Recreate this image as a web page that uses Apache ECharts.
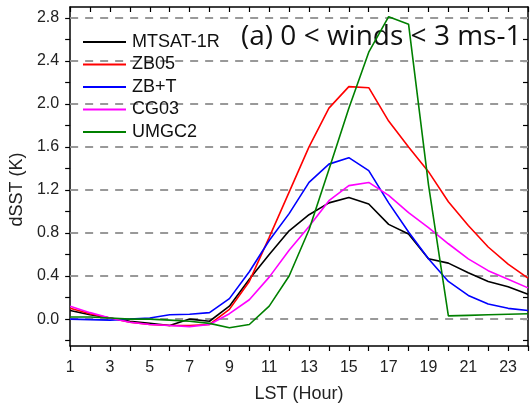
<!DOCTYPE html>
<html>
<head>
<meta charset="utf-8">
<script src="https://cdn.jsdelivr.net/npm/echarts@6/dist/echarts.min.js"></script>
<style>
html,body{margin:0;padding:0;background:#fff;}
#chart{width:531px;height:408px;}
</style>
</head>
<body>
<div id="chart"></div>
<script>
const hours = [1,2,3,4,5,6,7,8,9,10,11,12,13,14,15,16,17,18,19,20,21,22,23,24];
const mtsat = [0.08,0.04,0.01,-0.02,-0.04,-0.06,0.0,-0.02,0.12,0.37,0.60,0.82,0.97,1.08,1.13,1.07,0.88,0.79,0.56,0.52,0.43,0.35,0.30,0.23];
const zb05  = [0.10,0.05,0.01,-0.03,-0.05,-0.06,-0.06,-0.05,0.09,0.35,0.76,1.18,1.60,1.96,2.16,2.15,1.84,1.60,1.37,1.09,0.87,0.67,0.51,0.38];
const zbt   = [0.00,-0.005,-0.01,0.00,0.01,0.04,0.045,0.06,0.19,0.44,0.73,0.98,1.27,1.44,1.50,1.38,1.08,0.81,0.56,0.35,0.22,0.14,0.10,0.08];
const cg03  = [0.12,0.06,0.01,-0.03,-0.05,-0.06,-0.07,-0.05,0.05,0.18,0.39,0.64,0.86,1.10,1.24,1.27,1.15,0.99,0.85,0.70,0.56,0.45,0.37,0.29];
const umgc2 = [0.02,0.02,0.01,0.00,0.00,-0.01,-0.02,-0.04,-0.08,-0.05,0.12,0.40,0.83,1.39,1.96,2.48,2.81,2.74,1.25,0.03,0.035,0.04,0.045,0.05];
const seriesNames = ['MTSAT-1R','ZB05','ZB+T','CG03','UMGC2'];
const yLabelValues = [0,0.4,0.8,1.2,1.6,2.0,2.4,2.8];
const yTickValues = [-0.2,0,0.2,0.4,0.6,0.8,1.0,1.2,1.4,1.6,1.8,2.0,2.2,2.4,2.6,2.8];
const gridValues = [0,0.4,0.8,1.2,1.6,2.0,2.4,2.8];
const titleText = '(a) 0 < winds < 3 ms-1';

const colors = ['#000000','#ff0000','#0000ff','#ff00ff','#008000'];
const values = [mtsat, zb05, zbt, cg03, umgc2];

const chart = echarts.init(document.getElementById('chart'), null, {renderer:'canvas'});
const axisFont = {fontFamily:'Liberation Sans, Arial, sans-serif', fontSize:16, color:'#222'};

const series = seriesNames.map((name, i) => ({
  name: name,
  type: 'line',
  xAxisIndex: 0, yAxisIndex: 0,
  data: hours.map((h, k) => [h, values[i][k]]),
  symbol: 'none',
  lineStyle: {color: colors[i], width: 1.6},
  itemStyle: {color: colors[i]},
  z: 3 + i,
  silent: true
}));
series.push({
  name: 'gridlines',
  type: 'line',
  data: [],
  symbol: 'none',
  silent: true,
  markLine: {
    silent: true,
    symbol: ['none','none'],
    z: 1,
    label: {show: false},
    lineStyle: {color: '#999', width: 1.8, type: [8,7]},
    data: gridValues.map(v => ({yAxis: v}))
  }
});

chart.setOption({
  animation: false,
  backgroundColor: '#fff',
  title: {
    text: titleText,
    left: 236, top: 18,
    textStyle: {fontFamily: 'Open Sans', fontSize: 28, fontWeight: 'normal', color: '#111'}
  },
  legend: {
    data: seriesNames,
    orient: 'vertical',
    left: 83, top: 32, padding: 0,
    icon: 'rect',
    itemWidth: 43, itemHeight: 2, itemGap: 2.5,
    textStyle: {fontFamily:'Liberation Sans, Arial, sans-serif', fontSize: 18, color: '#111', lineHeight: 20, padding: [0,0,0,1]},
    selectedMode: false
  },
  grid: {left: 68, top: 7, width: 466, height: 343, containLabel: false},
  xAxis: [{
    type: 'value', min: 1, max: 24, interval: 1,
    position: 'bottom',
    name: 'LST (Hour)', nameLocation: 'middle', nameGap: 39,
    nameTextStyle: {fontFamily:'Liberation Sans, Arial, sans-serif', fontSize: 18, color: '#222'},
    axisLine: {show: true, onZero: false, lineStyle: {color: '#000', width: 1.5}},
    axisTick: {show: true, inside: false, length: 5, lineStyle: {color: '#000', width: 1.2}},
    axisLabel: Object.assign({margin: 14, formatter: v => (v % 2 === 1 && v < 24) ? String(v) : ''}, axisFont),
    splitLine: {show: false}
  },{
    type: 'value', min: 1, max: 24, interval: 1,
    position: 'top',
    axisLine: {show: true, onZero: false, lineStyle: {color: '#000', width: 1.5}},
    axisTick: {show: true, inside: true, length: 5, lineStyle: {color: '#000', width: 1.2}},
    axisLabel: {show: false},
    splitLine: {show: false}
  }],
  yAxis: [{
    type: 'value', min: -0.25, max: 2.9,
    position: 'left',
    name: 'dSST (K)', nameLocation: 'middle', nameGap: 42,
    nameTextStyle: {fontFamily:'Liberation Sans, Arial, sans-serif', fontSize: 18, color: '#222', padding: [0, 26, 0, 0]},
    axisLine: {show: true, onZero: false, lineStyle: {color: '#000', width: 1.5}},
    axisTick: {show: true, inside: false, length: 5, customValues: yTickValues, lineStyle: {color: '#000', width: 1.2}},
    axisLabel: Object.assign({margin: 11, customValues: yLabelValues, formatter: v => v.toFixed(1)}, axisFont),
    splitLine: {show: false}
  },{
    type: 'value', min: -0.25, max: 2.9,
    position: 'right',
    axisLine: {show: true, onZero: false, lineStyle: {color: '#000', width: 1.5}},
    axisTick: {show: true, inside: true, length: 5, customValues: yTickValues, lineStyle: {color: '#000', width: 1.2}},
    axisLabel: {show: false},
    splitLine: {show: false}
  }],
  series: series
});
</script>
</body>
</html>
